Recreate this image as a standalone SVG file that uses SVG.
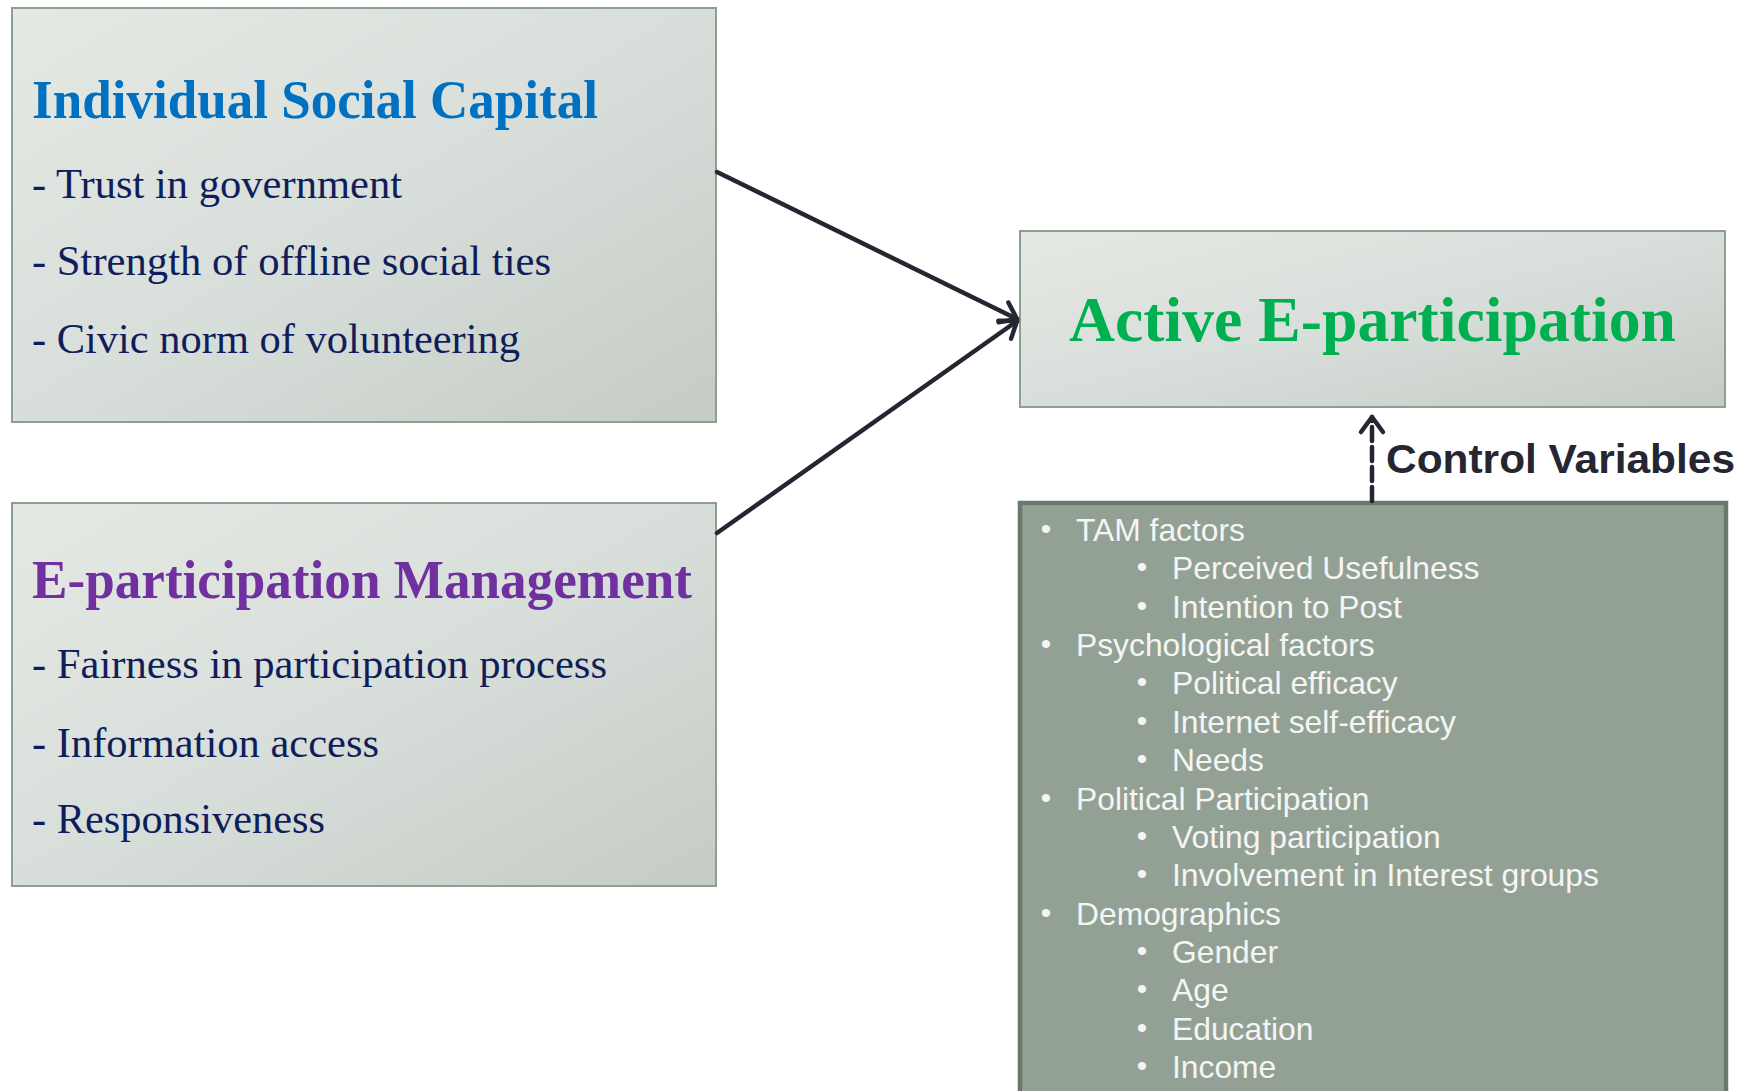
<svg xmlns="http://www.w3.org/2000/svg" width="1752" height="1091" viewBox="0 0 1752 1091">
<style>
.box{stroke:#8E9E90;stroke-width:2}
.title{font-family:"Liberation Serif","Times New Roman",serif;font-weight:bold}
.item{font-family:"Liberation Serif","Times New Roman",serif;font-size:42px;fill:#0F1E5A}
.ctl{font-family:"Liberation Sans",Arial,sans-serif;font-size:31.8px;fill:#F4F5F4}
.bul{font-family:"Liberation Sans",Arial,sans-serif;font-size:30px;fill:#F4F5F4;text-anchor:middle}
.conn{stroke:#262633;stroke-width:4.5;fill:none;stroke-linecap:round}
</style>
<defs>
<linearGradient id="g" x1="0" y1="0" x2="1" y2="1">
<stop offset="0" stop-color="#E5E9E4"/>
<stop offset="0.5" stop-color="#D8DEDA"/>
<stop offset="1" stop-color="#C5CCC5"/>
</linearGradient>
<marker id="ah" markerUnits="userSpaceOnUse" markerWidth="40" markerHeight="40" viewBox="-20 -20 40 40" refX="0" refY="0" orient="auto" overflow="visible">
<path d="M-15,-11 L0,0 L-15,11" fill="none" stroke="#262633" stroke-width="4.5" stroke-linecap="round" stroke-linejoin="round"/>
</marker>
</defs>
<rect width="1752" height="1091" fill="#FFFFFF"/>

<g id="node-individual-social-capital">
<rect class="box" x="12" y="8" width="704" height="414" fill="url(#g)"/>
<text class="title" x="32" y="118" font-size="54" fill="#0070C0" textLength="566" lengthAdjust="spacingAndGlyphs">Individual Social Capital</text>
<text class="item" x="32" y="198" textLength="370" lengthAdjust="spacingAndGlyphs">- Trust in government</text>
<text class="item" x="32" y="275" textLength="519" lengthAdjust="spacingAndGlyphs">- Strength of offline social ties</text>
<text class="item" x="32" y="353" textLength="488" lengthAdjust="spacingAndGlyphs">- Civic norm of volunteering</text>
</g>

<g id="node-eparticipation-management">
<rect class="box" x="12" y="503" width="704" height="383" fill="url(#g)"/>
<text class="title" x="32" y="598" font-size="54" fill="#7030A0" textLength="660" lengthAdjust="spacingAndGlyphs">E-participation Management</text>
<text class="item" x="32" y="678" textLength="575" lengthAdjust="spacingAndGlyphs">- Fairness in participation process</text>
<text class="item" x="32" y="757" textLength="347" lengthAdjust="spacingAndGlyphs">- Information access</text>
<text class="item" x="32" y="833" textLength="293" lengthAdjust="spacingAndGlyphs">- Responsiveness</text>
</g>

<g id="node-active-eparticipation">
<rect class="box" x="1020" y="231" width="705" height="176" fill="url(#g)"/>
<text class="title" x="1069" y="341" font-size="64" fill="#00B050" textLength="607" lengthAdjust="spacingAndGlyphs">Active E-participation</text>
</g>

<g id="node-control-variables">
<rect x="1020" y="503" width="706" height="620" fill="#93A195" stroke="#6C786D" stroke-width="4.5"/>
<g class="bul">
<text x="1046" y="539">•</text>
<text x="1142" y="577.4">•</text>
<text x="1142" y="615.7">•</text>
<text x="1046" y="654.1">•</text>
<text x="1142" y="692.4">•</text>
<text x="1142" y="730.8">•</text>
<text x="1142" y="769.2">•</text>
<text x="1046" y="807.5">•</text>
<text x="1142" y="845.9">•</text>
<text x="1142" y="884.2">•</text>
<text x="1046" y="922.6">•</text>
<text x="1142" y="961">•</text>
<text x="1142" y="999.3">•</text>
<text x="1142" y="1037.7">•</text>
<text x="1142" y="1076">•</text>
</g>
<text class="ctl" x="1076" y="541">TAM factors</text>
<text class="ctl" x="1172" y="579.4">Perceived Usefulness</text>
<text class="ctl" x="1172" y="617.7">Intention to Post</text>
<text class="ctl" x="1076" y="656.1">Psychological factors</text>
<text class="ctl" x="1172" y="694.4">Political efficacy</text>
<text class="ctl" x="1172" y="732.8">Internet self-efficacy</text>
<text class="ctl" x="1172" y="771.2">Needs</text>
<text class="ctl" x="1076" y="809.5">Political Participation</text>
<text class="ctl" x="1172" y="847.9">Voting participation</text>
<text class="ctl" x="1172" y="886.2" textLength="427" lengthAdjust="spacingAndGlyphs">Involvement in Interest groups</text>
<text class="ctl" x="1076" y="924.6">Demographics</text>
<text class="ctl" x="1172" y="963">Gender</text>
<text class="ctl" x="1172" y="1001.3">Age</text>
<text class="ctl" x="1172" y="1039.7">Education</text>
<text class="ctl" x="1172" y="1078">Income</text>
</g>

<g id="connectors">
<line class="conn" x1="717" y1="172" x2="1017" y2="319" marker-end="url(#ah)"/>
<line class="conn" x1="717" y1="533" x2="1017" y2="321" marker-end="url(#ah)"/>
<line class="conn" x1="1372" y1="501" x2="1372" y2="417" stroke-dasharray="14 6" stroke-linecap="butt" marker-end="url(#ah)"/>
<text x="1386" y="473" font-family="'Liberation Sans',Arial,sans-serif" font-weight="bold" font-size="41" fill="#262633" textLength="349" lengthAdjust="spacingAndGlyphs">Control Variables</text>
</g>
</svg>
